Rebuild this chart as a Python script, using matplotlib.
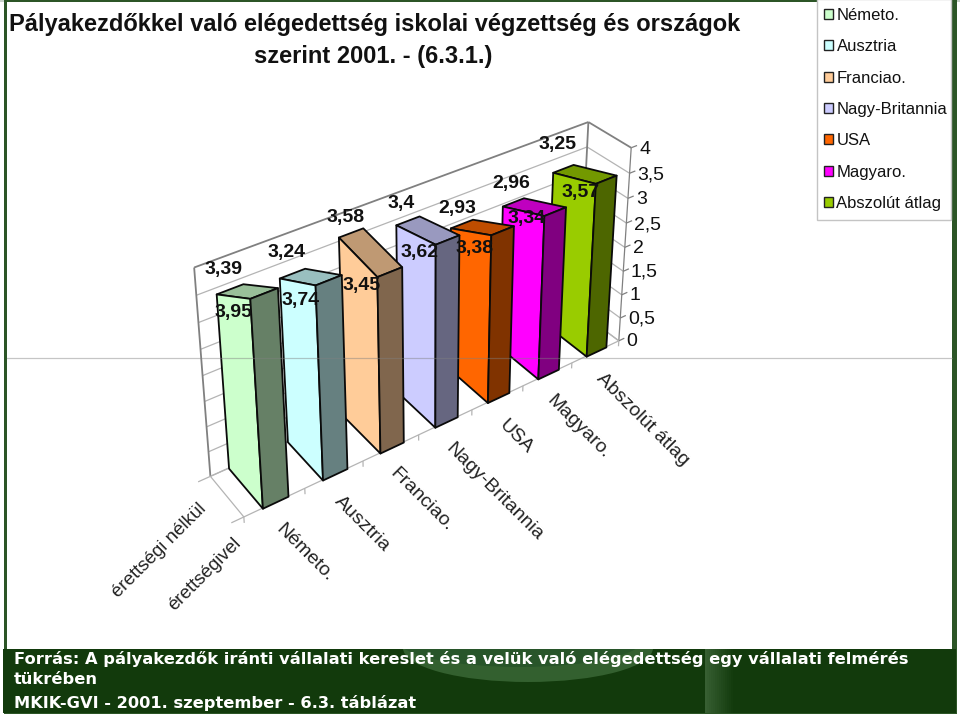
import numpy as np
import matplotlib
matplotlib.use("Agg")
import matplotlib.pyplot as plt
from matplotlib.patches import Rectangle, Ellipse, Patch
from mpl_toolkits.mplot3d.art3d import Poly3DCollection, Line3DCollection

# ---------- data ----------
categories = ["Németo.", "Ausztria", "Franciao.", "Nagy-Britannia", "USA", "Magyaro.", "Abszolút átlag"]
series_names = ["érettségi nélkül", "érettségivel"]
values_back = [3.39, 3.24, 3.58, 3.4, 2.93, 2.96, 3.25]      # érettségi nélkül
values_front = [3.95, 3.74, 3.45, 3.62, 3.38, 3.34, 3.57]    # érettségivel
z_ticks = [0, 0.5, 1, 1.5, 2, 2.5, 3, 3.5, 4]
colors = ["#CCFFCC", "#CCFFFF", "#FFCC99", "#CCCCFF", "#FF6600", "#FF00FF", "#99CC00"]
title_lines = ["Pályakezdőkkel való elégedettség iskolai végzettség és országok",
               "szerint 2001. - (6.3.1.)"]
source_lines = ["Forrás: A pályakezdők iránti vállalati kereslet és a velük való elégedettség egy vállalati felmérés",
                "tükrében", "MKIK-GVI - 2001. szeptember - 6.3. táblázat"]

W, H = 960, 716
NARROW = ["Liberation Sans Narrow", "Liberation Sans", "DejaVu Sans"]
SANS = ["Liberation Sans", "DejaVu Sans"]
fig = plt.figure(figsize=(W / 100, H / 100), dpi=100, facecolor="white")

# ---------- slide background (pixel coordinates) ----------
bg = fig.add_axes([0, 0, 1, 1], zorder=0)
bg.set_xlim(0, W); bg.set_ylim(H, 0); bg.axis("off")
DARK = "#123A0C"
bg.add_patch(Rectangle((0, 0), W, 2, fc="#C9D2C9", ec="none"))
bg.add_patch(Rectangle((4, 0), 953, 714, fc="#2C5526", ec="none"))
bg.add_patch(Rectangle((7, 2), 945, 647, fc="white", ec="none"))
footer = Rectangle((3, 649), 953, 64, fc=DARK, ec="none")
bg.add_patch(footer)
sw = Ellipse((528, 648), 250, 68, fc="#3C6A38", ec="none", alpha=0.8)
bg.add_patch(sw); sw.set_clip_path(footer)
sw2 = Ellipse((520, 640), 245, 54, fc="#27542A", ec="none", alpha=0.9)
bg.add_patch(sw2); sw2.set_clip_path(footer)
for k in range(14):
    bg.add_patch(Rectangle((705 + k * 2, 649), 2, 64, fc="#5C8458", ec="none",
                           alpha=0.5 * (1 - k / 14)))
bg.add_patch(Rectangle((817, -1), 134, 221, fc="white", ec="#C4C4C4", lw=1))

bg.text(375, 25, title_lines[0], ha="center", va="center", fontsize=17, family=SANS,
        color="#111111", fontweight="bold")
bg.text(373, 57, title_lines[1], ha="center", va="center", fontsize=17, family=SANS,
        color="#111111", fontweight="bold")
for y, s in zip((659, 680, 703), source_lines):
    bg.text(14, y, s, ha="left", va="center", fontsize=11.73, family="DejaVu Sans",
            fontweight="bold", color="white")

# category labels
cat_pos = [(305, 553), (362, 524), (421, 500), (494, 492), (516, 437), (578, 427), (643, 420)]
for (x, y), s in zip(cat_pos, categories):
    bg.text(x, y, s, ha="center", va="center", rotation=-45, rotation_mode="anchor",
            fontsize=14, family=SANS, color="#222222")
for (x, y), s in zip([(159, 551), (205, 574)], series_names):
    bg.text(x, y, s, ha="center", va="center", rotation=45, rotation_mode="anchor",
            fontsize=13.5, family=SANS, color="#222222")

# ---------- 3D axes with a camera calibrated on the picture ----------
ax = fig.add_axes([0, 0, 1, 1], projection="3d", zorder=1)
ax.set_axis_off()
ax.patch.set_alpha(0)
ax.computed_zorder = False
ax.set_xlim(0, 7); ax.set_ylim(0, 1); ax.set_zlim(0, 4)
ax.apply_aspect = lambda position=None: None

world = np.array([(0, 0, 0), (7, 0, 0), (0, 1, 0), (7, 1, 0), (0, 1, 4), (7, 1, 4), (7, 0, 4),
                  (.3, 0, 3.95), (.3, 1, 3.39), (6.3, 1, 3.25), (6.3, 0, 3.57),
                  (2.3, 0, 3.45), (2.3, 1, 3.58)], float)
image = np.array([(244, 517), (618, 341), (210, 476), (580, 311), (194, 267), (588, 122), (632, 148),
                  (250, 299), (216, 294), (552, 173), (595, 182), (377, 277), (339, 237)], float)


def solve_camera():
    rows = []
    for (X, Y, Z), (u, v) in zip(world, image):
        u, v = u / 1000, (H - v) / 1000
        rows.append([X, Y, Z, 1, 0, 0, 0, 0, -u * X, -u * Y, -u * Z, -u])
        rows.append([0, 0, 0, 0, X, Y, Z, 1, -v * X, -v * Y, -v * Z, -v])
    P = np.linalg.svd(np.array(rows))[2][-1].reshape(3, 4)
    P[:2] *= 1000
    return P


CAM = solve_camera()
CENTER = np.linalg.svd(CAM)[2][-1]


def camera_proj():
    inv = ax.transData.inverted().get_matrix()
    r0 = inv[0, 0] * CAM[0] + inv[0, 1] * CAM[1] + inv[0, 2] * CAM[2]
    r1 = inv[1, 0] * CAM[0] + inv[1, 1] * CAM[1] + inv[1, 2] * CAM[2]
    return np.array([r0, r1, CENTER, CAM[2]])


ax.get_proj = camera_proj
ax.M = camera_proj()

# overlay for the texts that sit on the 3D scene (pixel coordinates)
top = fig.add_axes([0, 0, 1, 1], zorder=2)
top.set_xlim(0, W); top.set_ylim(H, 0); top.axis("off")
top.plot([7, 952], [357.5, 357.5], color="#808080", lw=0.9, alpha=0.45)


def label_at(x, y, z, s, dx=0, dy=0, **kw):
    u, v, w = CAM @ np.array([x, y, z, 1.0])
    top.text(u / w + dx, H - v / w + dy, s, **kw)


GRID = "#B4B4B4"
EDGE = "#808080"


def lines(segs, col, lw, zo=1):
    ax.add_collection3d(Line3DCollection(segs, colors=col, linewidths=lw, zorder=zo), autolim=False)


# back wall, side wall, floor
grid_segs = []
for z in z_ticks[:-1]:
    grid_segs += [[(0, 1, z), (7, 1, z)], [(7, 1, z), (7, 0, z)]]
lines(grid_segs, GRID, 0.9)
lines([[(0, 1, 4), (7, 1, 4)], [(7, 1, 4), (7, 0, 4)], [(0, 1, 0), (0, 1, 4)], [(7, 1, 0), (7, 1, 4)]], EDGE, 1.3)
lines([[(7, 0, 0), (7, 0, 4)]] + [[(7, 0, z), (7.12, 0, z)] for z in z_ticks], EDGE, 0.9)
floor = [[(0, 0, 0), (7, 0, 0)], [(7, 0, 0), (7, 1, 0)], [(7, 1, 0), (0, 1, 0)], [(0, 1, 0), (0, 0, 0)]]
floor += [[(x, 0, 0), (x, 0, -0.12)] for x in range(8)]
floor += [[(0, y, 0), (-0.2, y, 0)] for y in (0, 1)]
lines(floor, GRID, 0.9)

for z in z_ticks:
    label_at(7.17, 0, z - 0.1, f"{z:g}".replace(".", ","), ha="left", va="center",
             fontsize=14, family=NARROW, color="#111111")


def shade(col, f):
    return tuple(c * f for c in matplotlib.colors.to_rgb(col))


def face(verts, col, zo):
    ax.add_collection3d(Poly3DCollection([verts], facecolors=[col], edgecolors="#0A0A0A",
                                         linewidths=1.3, zorder=zo), autolim=False)


BAR_L, BAR_R = 0.3, 0.72
for i in range(len(categories) - 1, -1, -1):
    f, b = values_front[i], values_back[i]
    xl, xr = i + BAR_L, i + BAR_R
    zo = 10 + (len(categories) - i) * 2
    face([(xl, 0, f), (xr, 0, f), (xr, 1, b), (xl, 1, b)], shade(colors[i], 0.75), zo)
    face([(xl, 0, 0), (xl, 1, 0), (xl, 1, b), (xl, 0, f)], colors[i], zo)
    face([(xl, 0, 0), (xr, 0, 0), (xr, 0, f), (xl, 0, f)], shade(colors[i], 0.5), zo + 1)

# small pixel nudges of the value labels, as placed by hand in the original
nudge_back = [(-1, 0), (-1, -2), (-1, 4), (-3, 2), (-1, 3), (1, -1), (-3, -6)]
nudge_front = [(-3, 1), (0, 2), (0, -4), (0, -5), (1, 0), (0, -11), (4, -5)]
for i in range(len(categories)):
    label_at(i + 0.45, 1, values_back[i] + 0.38, f"{values_back[i]:g}".replace(".", ","),
             *nudge_back[i], ha="center", va="center", fontsize=14, family=NARROW,
             fontweight="bold", color="#111111")
    label_at(i + 0.3, 0.4, values_front[i] - 0.5, f"{values_front[i]:g}".replace(".", ","),
             *nudge_front[i], ha="center", va="center", fontsize=14, family=NARROW,
             fontweight="bold", color="#111111")

# ---------- legend ----------
handles = [Patch(facecolor=c, edgecolor="#222222", linewidth=1) for c in colors]
leg = fig.legend(handles, categories, loc="upper left", bbox_to_anchor=(816 / W, 1 - 0 / H),
                 bbox_transform=fig.transFigure, borderaxespad=0, borderpad=0.48,
                 handlelength=0.55, handleheight=0.55, handletextpad=0.2, labelspacing=0.98,
                 frameon=False, prop={"family": SANS, "size": 12})
leg.set_zorder(5)
for t in leg.get_texts():
    t.set_color("#111111")

fig.savefig("out.png", dpi=100)
